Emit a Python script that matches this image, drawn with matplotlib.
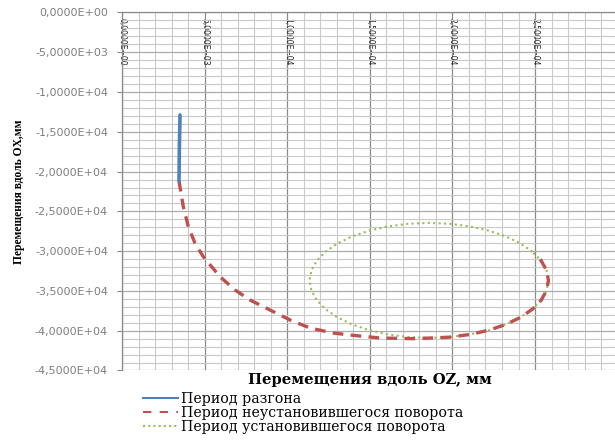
import matplotlib
matplotlib.use("Agg")
import matplotlib.pyplot as plt
from matplotlib.ticker import MultipleLocator, FixedLocator
from matplotlib.lines import Line2D

# ---- data (Z along horizontal, X along vertical), mm ----
accel_z = [3511, 3493, 3468, 3450]
accel_x = [-12884, -14770, -17280, -21180]

transient_z = [3450, 3710, 4013, 4419, 4921, 5932, 6840, 7748, 8958, 10169,
               11380, 12770, 13800, 15617, 17615, 18580, 19835, 21053, 22195,
               23227, 24118, 24841, 25374, 25700, 25810, 25700, 25374, 25000]
transient_x = [-21180, -24410, -26925, -29010, -30700, -33210, -34880, -36140,
               -37400, -38650, -39660, -40290, -40540, -40920, -41000, -40930,
               -40810, -40474, -39941, -39218, -38327, -37295, -36153, -34935,
               -33680, -32425, -31207, -30300]

steady_z = [24841, 24118, 23227, 22195, 21053, 19835, 18580, 17325, 16107,
            14965, 13933, 13042, 12319, 11786, 11460, 11350, 11460, 11786,
            12319, 13042, 13933, 14965, 16107, 17325, 18580, 19835, 21053,
            22195, 23227, 24118, 24841, 25374, 25700, 25810, 25700, 25374,
            24841]
steady_x = [-30065, -29033, -28142, -27419, -26886, -26560, -26450, -26560,
            -26886, -27419, -28142, -29033, -30065, -31207, -32425, -33680,
            -34935, -36153, -37295, -38327, -39218, -39941, -40474, -40800,
            -40910, -40800, -40474, -39941, -39218, -38327, -37295, -36153,
            -34935, -33680, -32425, -31207, -30065]

x_ticks = [0, 5000, 10000, 15000, 20000, 25000, 30000]
x_tick_labels = ['0,0000E+00', '5,0000E+03', '1,0000E+04', '1,5000E+04',
                 '2,0000E+04', '2,5000E+04', '3,0000E+04']
y_ticks = [0, -5000, -10000, -15000, -20000, -25000, -30000, -35000,
           -40000, -45000]
y_tick_labels = ['0,0000E+00', '-5,0000E+03', '-1,0000E+04', '-1,5000E+04',
                 '-2,0000E+04', '-2,5000E+04', '-3,0000E+04', '-3,5000E+04',
                 '-4,0000E+04', '-4,5000E+04']

series_labels = ['Период разгона',
                 'Период неустановившегося поворота',
                 'Период установившегося поворота']
x_title = 'Перемещения вдоль OZ, мм'
y_title = 'Перемещения вдоль OX,мм'

# ---- figure ----
fig = plt.figure(figsize=(6.15, 4.41), dpi=100)
ax = fig.add_axes([0.1984, 0.1599, 0.8059, 0.8118])
ax.set_xlim(0, 30000)
ax.set_ylim(-45000, 0)

c_blue = '#4F81BD'
c_red = '#C0504D'
c_green = '#9BBB59'

ax.plot(steady_z, steady_x, color=c_green, lw=1.5, ls=(0, (1, 1.6)), zorder=3)
ax.plot(transient_z, transient_x, color=c_red, lw=2.4, ls=(0, (3.2, 2.2)),
        zorder=4)
ax.plot(accel_z, accel_x, color=c_blue, lw=2.6, solid_capstyle='round',
        zorder=5)

# grid
ax.xaxis.set_major_locator(FixedLocator(x_ticks))
ax.yaxis.set_major_locator(FixedLocator(y_ticks))
ax.xaxis.set_minor_locator(MultipleLocator(1000))
ax.yaxis.set_minor_locator(MultipleLocator(1000))
ax.grid(which='major', axis='x', color='#8a8a8a', lw=0.9)
ax.grid(which='major', axis='y', color='#acacac', lw=0.9)
ax.grid(which='minor', color='#c9c9c9', lw=0.8)
ax.set_axisbelow(True)

for s in ['right', 'bottom']:
    ax.spines[s].set_visible(False)
for s in ['left', 'top']:
    ax.spines[s].set_color('#8a8a8a')
    ax.spines[s].set_linewidth(0.9)

# x tick labels: at top, inside, rotated
ax.xaxis.tick_top()
ax.set_xticklabels(x_tick_labels)
ax.tick_params(axis='x', which='both', length=0, pad=-4, labelsize=5.5,
               labelrotation=-90, labelcolor='#222222')
for t in ax.get_xticklabels():
    t.set_verticalalignment('top')

# y tick labels
ax.set_yticklabels(y_tick_labels)
ax.tick_params(axis='y', which='major', length=3.6, color='#8a8a8a',
               pad=6.5, labelsize=8, labelcolor='#7f7f7f')
ax.tick_params(axis='y', which='minor', length=0)

# titles
ax.set_xlabel(x_title, family=['DejaVu Serif'], fontweight='bold',
              fontsize=10.6, labelpad=2)
ax.xaxis.set_label_position('bottom')
ax.set_ylabel(y_title, family=['Liberation Serif'], fontweight='bold',
              fontsize=8.3, labelpad=7)

handles = [Line2D([], [], color=c_blue, lw=1.5),
           Line2D([], [], color=c_red, lw=1.5, ls=(0, (4, 4))),
           Line2D([], [], color=c_green, lw=1.5, ls=(0, (1, 1.5)))]
fig.legend(handles, series_labels, loc='upper left',
           bbox_to_anchor=(0.2325, 0.111), frameon=False,
           prop={'family': 'DejaVu Serif', 'size': 10.2},
           handlelength=2.5, handletextpad=0.15, labelspacing=0.0,
           borderpad=0, borderaxespad=0)

fig.savefig('out.png', dpi=100)
